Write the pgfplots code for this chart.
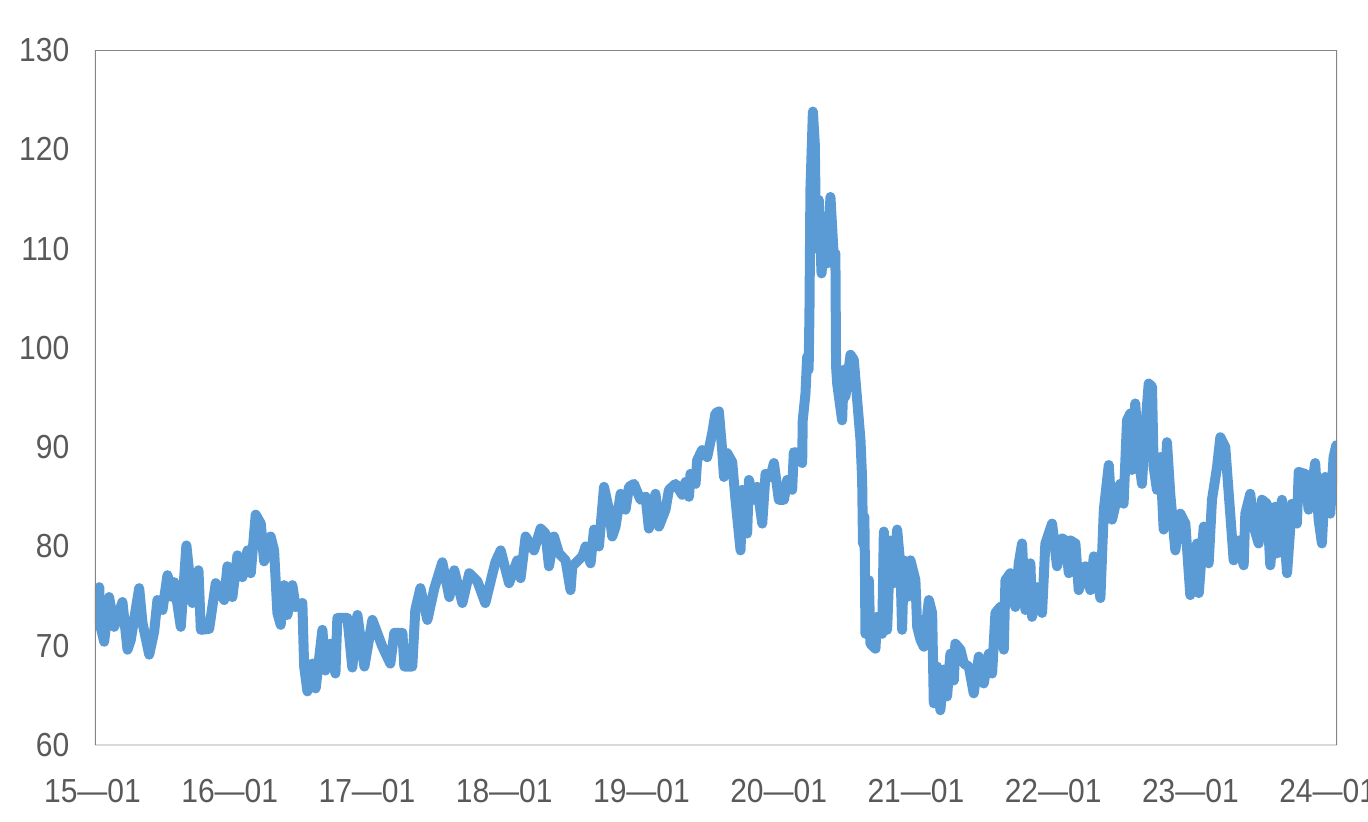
\documentclass[border=0pt]{standalone}
\usepackage{fontspec}
\setmainfont{Liberation Sans}[FakeStretch=0.9]
\usepackage{pgfplots}
\pgfplotsset{compat=1.18}
\usepackage{pgfplotstable}
\definecolor{lineblue}{HTML}{5B9BD5}
\definecolor{txtgray}{HTML}{595959}
\definecolor{framegray}{HTML}{868686}
\definecolor{basegray}{HTML}{D9D9D9}
\pgfplotstableread{
x y
0.031 75.9
0.034 72.3
0.067 70.4
0.103 74.9
0.140 71.9
0.200 74.4
0.237 69.6
0.261 70.6
0.322 75.8
0.346 72.3
0.395 69.1
0.431 71.4
0.455 74.6
0.492 73.6
0.528 77.1
0.564 74.9
0.577 76.4
0.625 71.9
0.666 80.1
0.710 74.3
0.754 77.6
0.771 71.6
0.832 71.7
0.880 76.3
0.941 74.6
0.965 78.0
1.001 74.9
1.038 79.1
1.074 76.9
1.111 79.6
1.135 77.3
1.171 83.2
1.208 82.3
1.232 78.5
1.280 81.0
1.305 79.6
1.329 73.3
1.353 72.1
1.378 76.1
1.402 73.1
1.438 76.1
1.462 73.9
1.511 74.3
1.524 67.9
1.548 65.4
1.584 68.2
1.608 65.7
1.657 71.6
1.679 67.5
1.715 70.2
1.752 67.2
1.766 72.8
1.839 72.8
1.875 67.8
1.912 73.1
1.963 67.9
2.021 72.6
2.094 69.9
2.152 68.2
2.181 71.3
2.240 71.3
2.254 67.9
2.312 67.9
2.334 73.6
2.371 75.8
2.422 72.6
2.473 75.8
2.531 78.4
2.582 74.9
2.618 77.6
2.677 74.3
2.727 77.3
2.786 76.5
2.844 74.3
2.917 78.4
2.956 79.6
3.017 76.3
3.077 78.6
3.101 76.8
3.138 81.0
3.199 79.6
3.247 81.8
3.283 81.3
3.308 78.0
3.344 81.0
3.381 79.3
3.429 78.6
3.465 75.6
3.478 78.0
3.551 79.0
3.575 80.0
3.611 78.3
3.636 81.7
3.672 80.0
3.709 86.0
3.745 83.7
3.769 81.0
3.793 82.0
3.830 85.3
3.866 83.7
3.891 86.0
3.927 86.3
3.975 84.7
4.012 85.0
4.036 81.8
4.084 85.3
4.109 82.0
4.157 83.7
4.182 85.7
4.230 86.3
4.279 85.2
4.303 86.5
4.328 85.0
4.339 87.3
4.376 86.3
4.388 88.7
4.424 89.7
4.461 89.0
4.497 91.4
4.521 93.4
4.546 93.6
4.570 89.7
4.583 87.0
4.607 89.4
4.643 88.5
4.667 84.7
4.704 79.6
4.716 85.7
4.752 81.3
4.765 86.7
4.801 84.7
4.825 86.0
4.862 82.3
4.886 87.3
4.922 87.0
4.947 88.4
4.983 84.7
5.020 84.7
5.044 86.7
5.080 85.7
5.092 89.5
5.129 89.4
5.153 88.4
5.157 92.7
5.177 95.4
5.189 99.1
5.200 97.8
5.206 103.5
5.213 115.9
5.231 123.8
5.245 120.5
5.255 110.0
5.274 114.9
5.294 107.5
5.323 112.9
5.335 108.5
5.359 115.2
5.383 109.2
5.395 109.5
5.400 98.1
5.408 96.4
5.444 92.7
5.457 97.8
5.468 95.1
5.505 99.3
5.529 98.8
5.554 94.7
5.578 90.7
5.590 86.7
5.596 80.3
5.606 83.0
5.610 78.3
5.614 71.2
5.639 76.6
5.650 70.2
5.687 69.7
5.699 72.9
5.736 71.2
5.748 81.5
5.772 71.6
5.796 80.6
5.821 76.3
5.845 81.7
5.869 78.0
5.881 71.6
5.894 78.6
5.918 74.9
5.942 78.6
5.978 76.6
5.991 71.9
6.015 70.6
6.039 69.9
6.076 74.6
6.100 73.3
6.112 64.2
6.136 67.9
6.160 63.5
6.185 67.6
6.209 64.9
6.233 69.2
6.258 66.5
6.269 70.2
6.306 69.6
6.331 68.2
6.367 67.9
6.403 65.2
6.440 68.9
6.476 66.2
6.513 69.2
6.537 67.2
6.561 73.3
6.597 73.9
6.622 69.6
6.634 76.6
6.670 77.3
6.706 73.9
6.731 78.3
6.755 80.3
6.779 73.6
6.816 78.3
6.828 72.9
6.865 75.9
6.901 73.3
6.925 80.3
6.974 82.3
7.010 78.0
7.047 80.8
7.071 80.6
7.096 77.3
7.108 80.6
7.144 80.3
7.168 75.6
7.217 78.0
7.253 75.6
7.278 79.0
7.326 74.8
7.351 83.7
7.387 88.2
7.411 82.7
7.470 86.3
7.495 84.3
7.520 92.7
7.544 93.4
7.556 87.7
7.580 94.4
7.605 89.0
7.629 86.3
7.653 92.0
7.678 96.4
7.702 96.1
7.714 88.0
7.738 85.7
7.762 89.0
7.787 81.7
7.811 90.5
7.835 85.3
7.872 79.6
7.908 83.3
7.945 82.3
7.981 75.1
8.006 78.0
8.030 80.3
8.043 75.3
8.079 82.0
8.115 78.3
8.139 84.7
8.176 88.0
8.200 91.0
8.236 90.0
8.272 83.3
8.297 78.6
8.334 80.6
8.370 78.1
8.382 83.3
8.418 85.3
8.443 82.0
8.479 80.3
8.503 84.7
8.540 84.3
8.564 78.1
8.600 84.0
8.613 79.3
8.649 84.7
8.686 77.3
8.722 84.3
8.758 82.3
8.771 87.5
8.819 87.3
8.843 83.7
8.891 88.4
8.916 82.7
8.940 80.3
8.964 87.0
9.001 83.3
9.025 89.0
9.045 90.2
}\series
\begin{document}
\begin{tikzpicture}
\useasboundingbox (-28.5pt,-23.1pt) rectangle (381.9pt,223.5pt);
\clip (-28.5pt,-23.1pt) rectangle (381.9pt,223.5pt);
\begin{axis}[
  at={(0pt,0pt)}, anchor=south west,
  scale only axis, width=372.6pt, height=208.5pt,
  xmin=0, xmax=9.05, ymin=60, ymax=130,
  axis line style={draw=none},
  tick style={draw=none}, major tick length=0pt,
  xtick={0,1,2,3,4,5,6,7,8,9},
  xticklabels={15—01,16—01,17—01,18—01,19—01,20—01,21—01,22—01,23—01,24—01},
  ytick={60,70,80,90,100,110,120,130},
  yticklabels={60,70,80,90,100,110,120,130},
  ticklabel style={font=\fontsize{10}{12}\selectfont, text=txtgray},
  yticklabel style={xshift=-4.2pt},
  xticklabel style={yshift=-6.6pt, xshift=-0.75pt},
]
\addplot[lineblue, line width=3pt, line join=round, line cap=round] table[x=x,y=y] {\series};
\draw[basegray, line width=0.6pt] (rel axis cs:0,0) -- (rel axis cs:1,0);
\draw[framegray, line width=0.6pt] (rel axis cs:0,0) -- (rel axis cs:0,1) -- (rel axis cs:1,1) -- (rel axis cs:1,0);
\end{axis}
\end{tikzpicture}
\end{document}
